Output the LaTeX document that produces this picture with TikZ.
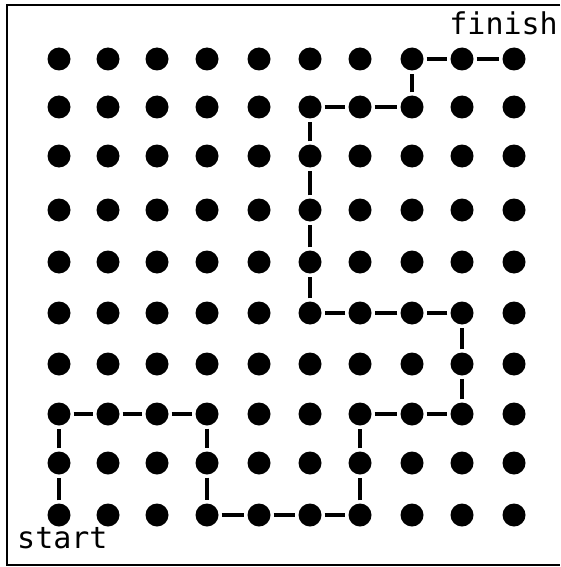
\documentclass[tikz,border=0pt]{standalone}
\usepackage{fontspec}
\setmonofont{DejaVu Sans Mono}
\begin{document}
\begin{tikzpicture}[x=1pt,y=-1pt,
  dot/.style={circle,fill=black,inner sep=0pt,minimum size=23pt},
  link/.style={line width=3.5pt,shorten <=3pt,shorten >=3pt},
  lbl/.style={font=\ttfamily\fontsize{30}{30}\selectfont,inner sep=0pt}]
\useasboundingbox (0,0) rectangle (560,567);
\coordinate (tl) at (7,5);
\coordinate (tr) at (560,5);
\coordinate (bl) at (7,565);
\coordinate (br) at (560,565);
\draw[line width=2.5pt] (tr) -- (tl) -- (bl) -- (br);
\def\xs{{59,108,157,207,259,310,360,412,462,514}}
\def\ys{{59,107,156,210,262,313,364,414,463,515}}
\foreach \i in {0,...,9}{
  \foreach \j in {0,...,9}{
    \pgfmathsetmacro{\px}{\xs[\i]}
    \pgfmathsetmacro{\py}{\ys[\j]}
    \node[dot] (d\i-\j) at (\px,\py) {};
  }
}
\foreach \a/\b in {0-9/0-8,0-8/0-7,0-7/1-7,1-7/2-7,2-7/3-7,3-7/3-8,3-8/3-9,
  3-9/4-9,4-9/5-9,5-9/6-9,6-9/6-8,6-8/6-7,6-7/7-7,7-7/8-7,8-7/8-6,8-6/8-5,
  8-5/7-5,7-5/6-5,6-5/5-5,5-5/5-4,5-4/5-3,5-3/5-2,5-2/5-1,5-1/6-1,6-1/7-1,
  7-1/7-0,7-0/8-0,8-0/9-0}{
  \draw[link] (d\a) -- (d\b);
}
\node[lbl,anchor=base east] (fin) at (558,35) {finish};
\node[lbl,anchor=base west] (st) at (17,548) {start};
\end{tikzpicture}
\end{document}
